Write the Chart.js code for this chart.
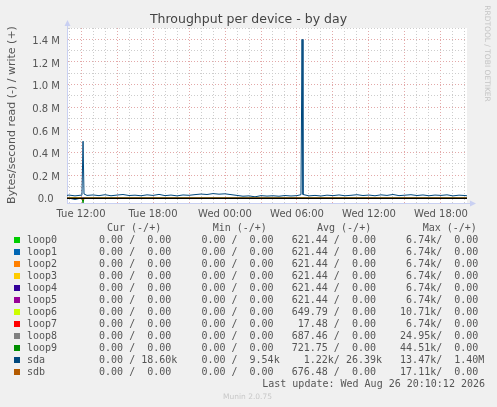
<!DOCTYPE html>
<html>
<head>
<meta charset="utf-8">
<title>Throughput per device - by day</title>
<script src="https://cdn.jsdelivr.net/npm/chart.js@4.4.1/dist/chart.umd.min.js"></script>
<style>
    html, body { margin: 0; padding: 0; background: #f0f0f0; }
    #wrap { position: relative; width: 497px; height: 407px; }
</style>
</head>
<body>
<div id="wrap"><canvas id="throughputChart" width="497" height="407"></canvas></div>
<script>
// devices and munin colours
const devices = ["loop0", "loop1", "loop2", "loop3", "loop4", "loop5",
                 "loop6", "loop7", "loop8", "loop9", "sda", "sdb"];
const deviceColors = ["#00cc00", "#0066b3", "#ff8000", "#ffcc00", "#330099", "#990099",
                      "#ccff00", "#ff0000", "#808080", "#008f00", "#00487d", "#b35a00"];

// sample times, hours since Tue 00:00
const hours = [10.83, 11, 11.5, 12, 12.08, 12.17, 12.25, 12.5,
    13, 13.5, 14, 14.5, 15, 15.5, 16, 16.5, 17, 17.5,
    18, 18.5, 19, 19.5, 20, 20.5, 21, 21.5, 22, 22.5,
    23, 23.5, 24, 24.5, 25, 25.5, 26, 26.5, 27, 27.5,
    28, 28.5, 29, 29.5, 30, 30.33, 30.42, 30.5,
    31, 31.5, 32, 32.5, 33, 33.5, 34, 34.5, 35, 35.5,
    36, 36.5, 37, 37.5, 38, 38.5, 39, 39.5, 40, 40.5,
    41, 41.5, 42, 42.5, 43, 43.5, 44, 44.17];

// sda write (+) and read (-), kB/s
const sdaWriteK = [22, 25, 18, 24, 30, 500, 35, 22,
    26, 20, 28, 19, 25, 30, 21, 24, 19, 27,
    22, 31, 20, 25, 18, 26, 23, 29, 34, 30,
    38, 33, 36, 29, 22, 15, 18, 9.54, 20, 16,
    19, 15, 21, 17, 20, 28, 1400, 30,
    18, 22, 17, 24, 20, 26, 19, 23, 28, 21,
    25, 19, 27, 22, 30, 20, 24, 28, 21, 26,
    19, 25, 22, 27, 18, 24, 21, 18.6];
const sdaReadK = [0, 2.1, 13.47, 1.5, 0.8, 3.2, 1.1, 0.9,
    1.4, 0.6, 2.2, 0.9, 1.1, 0.7, 1.8, 0.5, 1.2, 0.9,
    0.6, 1.5, 0.8, 1.1, 0.4, 0.9, 1.3, 0.7, 1.0, 0.6,
    0.8, 0.5, 1.2, 0.6, 0.4, 0.3, 0.7, 0.5, 0.9, 0.4,
    0.6, 0.5, 0.8, 0.4, 0.7, 1.6, 4.8, 1.2,
    0.9, 0.6, 1.1, 0.5, 0.8, 0.7, 1.0, 0.6, 0.9, 0.7,
    0.8, 0.5, 1.2, 0.6, 0.9, 0.7, 1.1, 0.8, 0.6, 1.0,
    0.7, 0.9, 0.5, 0.8, 0.6, 0.9, 0.7, 0];

// the other devices only read, around Tue 12:10
const spikeHours = [10.83, 12.08, 12.17, 12.25, 44.17];
const spikeReadK = [
    [0, 0, 6.74, 0, 0],     // loop0
    [0, 0, 6.74, 0, 0],     // loop1
    [0, 0, 6.74, 0, 0],     // loop2
    [0, 0, 6.74, 0, 0],     // loop3
    [0, 0, 6.74, 0, 0],     // loop4
    [0, 0, 6.74, 0, 0],     // loop5
    [0, 0, 10.71, 0, 0],    // loop6
    [0, 0, 6.74, 0, 0],     // loop7
    [0, 0, 24.95, 0, 0],    // loop8
    [0, 0, 44.51, 0, 0],    // loop9
    [0, 0, 17.11, 0, 0]     // sdb
];

// axis ticks
const yTicks = [0, 100000, 200000, 300000, 400000, 500000, 600000, 700000,
                800000, 900000, 1000000, 1100000, 1200000, 1300000, 1400000, 1500000];
const yTickLabels = ["0.0  ", "", "0.2 M", "", "0.4 M", "", "0.6 M", "", "0.8 M", "",
                     "1.0 M", "", "1.2 M", "", "1.4 M", ""];
const xLabelHours = [12, 18, 24, 30, 36, 42];
const xLabels = ["Tue 12:00", "Tue 18:00", "Wed 00:00", "Wed 06:00", "Wed 12:00", "Wed 18:00"];

// legend table (read / write)
const curRead  = ["0.00", "0.00", "0.00", "0.00", "0.00", "0.00", "0.00", "0.00", "0.00", "0.00", "0.00", "0.00"];
const curWrite = ["0.00", "0.00", "0.00", "0.00", "0.00", "0.00", "0.00", "0.00", "0.00", "0.00", "18.60k", "0.00"];
const minRead  = ["0.00", "0.00", "0.00", "0.00", "0.00", "0.00", "0.00", "0.00", "0.00", "0.00", "0.00", "0.00"];
const minWrite = ["0.00", "0.00", "0.00", "0.00", "0.00", "0.00", "0.00", "0.00", "0.00", "0.00", "9.54k", "0.00"];
const avgRead  = ["621.44", "621.44", "621.44", "621.44", "621.44", "621.44", "649.79", "17.48", "687.46", "721.75", "1.22k", "676.48"];
const avgWrite = ["0.00", "0.00", "0.00", "0.00", "0.00", "0.00", "0.00", "0.00", "0.00", "0.00", "26.39k", "0.00"];
const maxRead  = ["6.74k", "6.74k", "6.74k", "6.74k", "6.74k", "6.74k", "10.71k", "6.74k", "24.95k", "44.51k", "13.47k", "17.11k"];
const maxWrite = ["0.00", "0.00", "0.00", "0.00", "0.00", "0.00", "0.00", "0.00", "0.00", "0.00", "1.40M", "0.00"];
const lastUpdate = "Last update: Wed Aug 26 20:10:12 2026";

function points(xs, ysK, sign) {
    return xs.map((x, i) => ({ x: x, y: sign * ysK[i] * 1000 }));
}

function fmt(s) {
    const m = s.match(/^([\d.]+)([kM]?)$/);
    return m[1].padStart(6) + (m[2] || " ");
}

const datasets = [];
devices.forEach((name, i) => {
    const base = {
        borderColor: deviceColors[i],
        borderWidth: 1,
        pointRadius: 0,
        fill: false,
        tension: 0,
        order: devices.length - i
    };
    if (name === "sda") {
        datasets.push(Object.assign({ label: name + " read", data: points(hours, sdaReadK, -1) }, base));
        datasets.push(Object.assign({ label: name + " write", data: points(hours, sdaWriteK, 1) }, base));
    } else {
        const row = spikeReadK[name === "sdb" ? 10 : i];
        datasets.push(Object.assign({ label: name + " read", data: points(spikeHours, row, -1) }, base));
    }
});

const FONT = '"DejaVu Sans", sans-serif';
const MONO = '"DejaVu Sans Mono", monospace';
const MAJOR = "#e3a9a9";
const MINOR = "#cdcdcd";
const AXIS = "#c9d0f2";

const muninDecor = {
    id: "muninDecor",
    beforeDraw(chart) {
        const { ctx, chartArea: a } = chart;
        ctx.save();
        ctx.fillStyle = "#ffffff";
        ctx.fillRect(a.left, a.top, a.right - a.left, a.bottom - a.top);
        ctx.restore();
    },
    afterDatasetsDraw(chart) {
        const { ctx, chartArea: a } = chart;
        const y0 = Math.round(chart.scales.y.getPixelForValue(0)) + 0.5;
        ctx.save();
        ctx.strokeStyle = "#000000";
        ctx.lineWidth = 1;
        ctx.beginPath();
        ctx.moveTo(a.left, y0);
        ctx.lineTo(a.right, y0);
        ctx.stroke();

        // axis arrows
        ctx.strokeStyle = AXIS;
        ctx.fillStyle = AXIS;
        ctx.beginPath();
        ctx.moveTo(a.left + 0.5, a.top);
        ctx.lineTo(a.left + 0.5, a.top - 3);
        ctx.moveTo(a.right, a.bottom + 0.5);
        ctx.lineTo(a.right + 4, a.bottom + 0.5);
        ctx.stroke();
        ctx.beginPath();
        ctx.moveTo(a.left - 2.5, a.top - 2);
        ctx.lineTo(a.left + 3.5, a.top - 2);
        ctx.lineTo(a.left + 0.5, a.top - 8);
        ctx.closePath();
        ctx.fill();
        ctx.beginPath();
        ctx.moveTo(a.right + 3, a.bottom - 2.5);
        ctx.lineTo(a.right + 3, a.bottom + 3.5);
        ctx.lineTo(a.right + 9, a.bottom + 0.5);
        ctx.closePath();
        ctx.fill();
        ctx.restore();
    },
    afterDraw(chart) {
        const ctx = chart.ctx;
        ctx.save();

        // title
        ctx.fillStyle = "#444444";
        ctx.font = "12.5px " + FONT;
        ctx.textAlign = "center";
        ctx.textBaseline = "alphabetic";
        ctx.fillText("Throughput per device - by day", 248.5, 22.5);

        // vertical label
        ctx.save();
        ctx.translate(14.5, 115);
        ctx.rotate(-Math.PI / 2);
        ctx.fillStyle = "#555555";
        ctx.font = "11px " + FONT;
        ctx.fillText("Bytes/second read (-) / write (+)", 0, 0);
        ctx.restore();

        // rrdtool watermark
        ctx.save();
        ctx.translate(485, 53.5);
        ctx.rotate(Math.PI / 2);
        ctx.fillStyle = "#c4c4c4";
        ctx.font = "7.5px " + FONT;
        ctx.fillText("RRDTOOL / TOBI OETIKER", 0, 0);
        ctx.restore();

        // legend
        ctx.font = "10px " + MONO;
        ctx.fillStyle = "#555555";
        ctx.textAlign = "left";
        ctx.fillText("Cur (-/+)", 107, 231);
        ctx.fillText("Min (-/+)", 212.7, 231);
        ctx.fillText("Avg (-/+)", 317, 231);
        ctx.fillText("Max (-/+)", 422.7, 231);
        devices.forEach((name, i) => {
            const yb = 243 + 12 * i;
            ctx.fillStyle = deviceColors[i];
            ctx.fillRect(14, yb - 6, 6, 6);
            ctx.fillStyle = "#555555";
            ctx.fillText(name, 27, yb);
            const row = fmt(curRead[i]) + "/" + fmt(curWrite[i]) + "  " +
                        fmt(minRead[i]) + "/" + fmt(minWrite[i]) + "  " +
                        fmt(avgRead[i]) + "/" + fmt(avgWrite[i]) + "  " +
                        fmt(maxRead[i]) + "/" + fmt(maxWrite[i]);
            ctx.fillText(row, 87, yb);
        });
        ctx.textAlign = "right";
        ctx.fillText(lastUpdate, 485, 387);

        // footer
        ctx.textAlign = "center";
        ctx.fillStyle = "#c8c8c8";
        ctx.font = "7.5px " + FONT;
        ctx.fillText("Munin 2.0.75", 247.5, 399);
        ctx.restore();
    }
};

const ctx = document.getElementById("throughputChart");
new Chart(ctx, {
    type: "line",
    data: { datasets: datasets },
    plugins: [muninDecor],
    options: {
        responsive: false,
        animation: false,
        layout: { padding: { left: 0, right: 30, top: 28, bottom: 184 } },
        plugins: {
            legend: { display: false },
            title: { display: false },
            tooltip: { enabled: false }
        },
        scales: {
            x: {
                type: "linear",
                min: 10.833,
                max: 44.167,
                afterBuildTicks: (scale) => {
                    const t = [];
                    for (let h = 11; h <= 44; h++) t.push({ value: h });
                    scale.ticks = t;
                },
                afterFit: (scale) => { scale.height = 20; },
                ticks: {
                    autoSkip: false,
                    maxRotation: 0,
                    padding: 5,
                    color: "#555555",
                    font: { family: FONT, size: 10 },
                    callback: (v) => {
                        const k = xLabelHours.indexOf(v);
                        return k >= 0 ? xLabels[k] : "";
                    }
                },
                grid: {
                    drawTicks: false,
                    lineWidth: 1,
                    color: (c) => (c.tick && c.tick.value % 3 === 0) ? MAJOR : MINOR
                },
                border: { color: AXIS, width: 1, dash: [1, 2] }
            },
            y: {
                min: -45000,
                max: 1500000,
                afterBuildTicks: (scale) => {
                    scale.ticks = yTicks.map(v => ({ value: v }));
                },
                afterFit: (scale) => { scale.width = 67; },
                ticks: {
                    autoSkip: false,
                    padding: 7,
                    labelOffset: 2,
                    color: "#555555",
                    font: { family: FONT, size: 10 },
                    callback: (v) => {
                        const k = yTicks.indexOf(v);
                        return k >= 0 ? yTickLabels[k] : "";
                    }
                },
                grid: {
                    drawTicks: false,
                    lineWidth: 1,
                    color: (c) => (c.tick && c.tick.value % 200000 === 0) ? MAJOR : MINOR
                },
                border: { color: AXIS, width: 1, dash: [1, 2] }
            }
        }
    }
});
</script>
</body>
</html>
